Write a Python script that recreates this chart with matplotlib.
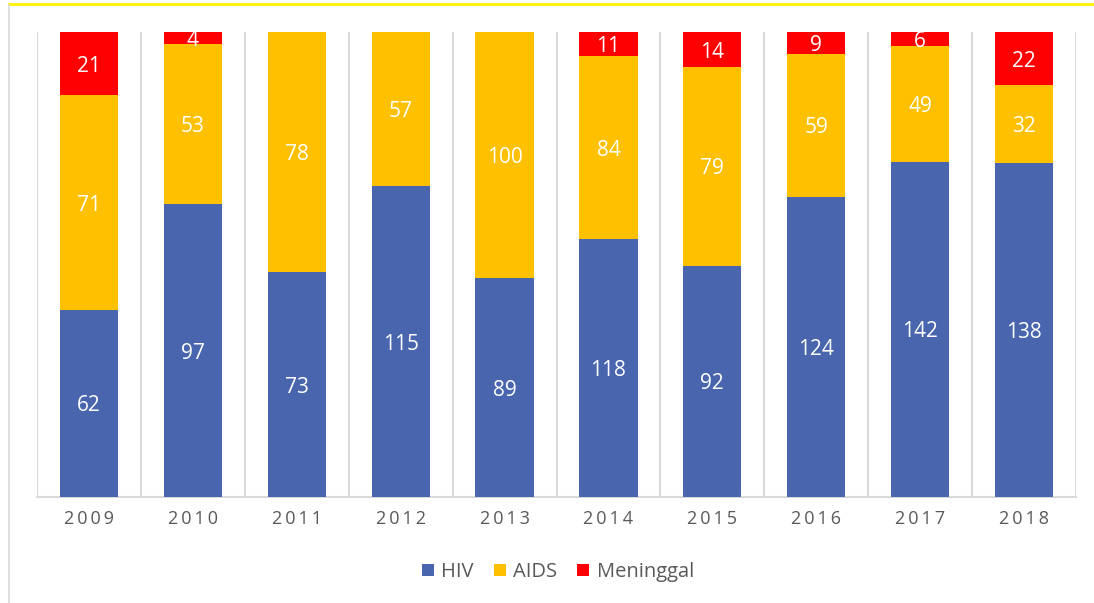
import matplotlib
matplotlib.use("Agg")
import matplotlib.pyplot as plt
from matplotlib.lines import Line2D
from matplotlib.patches import Patch
import numpy as np

years = ["2009", "2010", "2011", "2012", "2013", "2014", "2015", "2016", "2017", "2018"]
hiv = [62, 97, 73, 115, 89, 118, 92, 124, 142, 138]
aids = [71, 53, 78, 57, 100, 84, 79, 59, 49, 32]
meninggal = [21, 4, 0, 0, 0, 11, 14, 9, 6, 22]

series = [("HIV", hiv, "#4865AD"), ("AIDS", aids, "#FFC000"), ("Meninggal", meninggal, "#FF0000")]

plt.rcParams["font.family"] = ["Open Sans", "DejaVu Sans"]

fig = plt.figure(figsize=(10.94, 6.03), dpi=100)
ax = fig.add_axes([37 / 1094, 1 - 497 / 603, (1076 - 37) / 1094, (497 - 32) / 603])

x = np.arange(len(years))
totals = np.array(hiv) + np.array(aids) + np.array(meninggal)
bottom = np.zeros(len(years))
for name, vals, color in series:
    vals = np.array(vals, dtype=float)
    frac = vals / totals
    ax.bar(x, frac, 0.56, bottom=bottom, color=color, zorder=3, label=name)
    for xi, b, f, v in zip(x, bottom, frac, vals):
        if v > 0:
            ax.text(xi, b + f / 2, f"{int(v)}", ha="center", va="center_baseline",
                    color="white", fontsize=15, zorder=4)
    bottom += frac

ax.set_xlim(-0.5, len(years) - 0.5)
ax.set_ylim(0, 1)
for b in np.arange(-0.5, len(years), 1.0):
    ax.axvline(b, color="#D9D9D9", lw=1.5, zorder=1)
for s in ["top", "right", "left"]:
    ax.spines[s].set_visible(False)
ax.spines["bottom"].set_color("#D9D9D9")
ax.spines["bottom"].set_linewidth(1.5)
ax.set_yticks([])
ax.set_xticks(x)
ax.set_xticklabels(["\u2009".join(y) for y in years], fontsize=13, color="#595959")
ax.tick_params(axis="x", length=0, pad=9)

handles = [Patch(facecolor=c, label=n) for n, _, c in series]
fig.legend(handles=handles, loc="center", bbox_to_anchor=(558 / 1094, 1 - 572 / 603),
           ncol=3, frameon=False, fontsize=14.5, labelcolor="#595959",
           handlelength=0.6, handleheight=0.6, handletextpad=0.35, columnspacing=1.0)

fig.add_artist(Line2D([9 / 1094, 1], [1 - 4 / 603, 1 - 4 / 603], color="#FFF200", lw=2))
fig.add_artist(Line2D([9 / 1094, 9 / 1094], [0, 1 - 5 / 603], color="#D9D9D9", lw=1.2))

fig.savefig("out.png", dpi=100)
